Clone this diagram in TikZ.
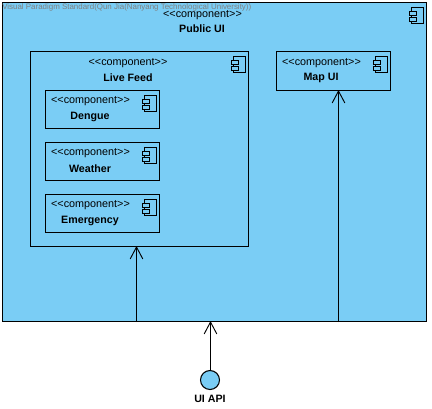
\documentclass[tikz,border=0pt]{standalone}
\usepackage{fontspec}
\usepackage{tikz}
\usetikzlibrary{arrows.meta}
\setmainfont{Liberation Sans}
\definecolor{compblue}{HTML}{7ACDF5}
\newcommand{\stereotxt}{<{}<component>{}>}
\tikzset{
	comp/.style={draw=black,fill=compblue,line width=0.8pt,anchor=north west,inner sep=0pt,minimum width=#1*0.75pt},
	stereo/.style={font=\fontsize{8.1}{9}\selectfont,inner sep=0pt},
	compname/.style={font=\fontsize{8}{9}\selectfont\bfseries,inner sep=0pt},
	uses/.style={-{Straight Barb[length=9pt,width=9.5pt]},line width=0.7pt},
	compicon/.pic={
		\draw[line width=0.7pt] (-16,5) rectangle (-4,21);
		\draw[line width=0.7pt,fill=compblue] (-18,9) rectangle (-11,13);
		\draw[line width=0.7pt,fill=compblue] (-18,15) rectangle (-11,19);
	}
}
\begin{document}
\begin{tikzpicture}[x=0.75pt,y=-0.75pt]
	\useasboundingbox (0,0) rectangle (432,408);
	% Outer component
	\node[comp=424,minimum height=319*0.75pt] (publicui) at (2,2) {};
	\path (publicui.north east) pic {compicon};
	\node[stereo] (publicuist) at (202.5,15) {\stereotxt};
	\node[compname] (publicuiname) at (202,29) {Public UI};
	\node[font=\fontsize{5.95}{7}\selectfont,text=black!50,inner sep=0pt,anchor=west] (mark) at (2,7) {Visual Paradigm Standard(Qun Jia(Nanyang Technological University))};
	% Live Feed and its children
	\node[comp=218,minimum height=195*0.75pt] (livefeed) at (30,51) {};
	\path (livefeed.north east) pic {compicon};
	\node[stereo] (livefeedst) at (128,63) {\stereotxt};
	\node[compname] (livefeedname) at (128,78) {Live Feed};
	\foreach \name/\ytop/\txt in {dengue/90/Dengue,weather/142/Weather,emergency/194/Emergency}
	{
		\node[comp=114,minimum height=38*0.75pt] (\name) at (45,\ytop) {};
		\path (\name.north east) pic {compicon};
		\node[stereo] (\name st) at (90.5,\ytop+11) {\stereotxt};
		\node[compname] (\name label) at (90,\ytop+26.5) {\txt};
	}
	% Map UI
	\node[comp=114,minimum height=39*0.75pt] (mapui) at (276,51) {};
	\path (mapui.north east) pic {compicon};
	\node[stereo] (mapuist) at (321.5,63) {\stereotxt};
	\node[compname] (mapuiname) at (321,78) {Map UI};
	% Interface
	\node[circle,draw=black,fill=compblue,line width=0.8pt,minimum size=19*0.75pt,inner sep=0pt] (uiapi) at (210,380) {};
	\node[compname,below=3.5pt] (uiapilabel) at (uiapi.south) {UI API};
	% Connectors
	\coordinate (feedtip) at (136.5,246);
	\coordinate (maptip) at (338.5,90);
	\coordinate (apitip) at (210.5,321);
	\draw[uses] (publicui.south -| feedtip) -- (feedtip);
	\draw[uses] (publicui.south -| maptip) -- (maptip);
	\draw[uses] (uiapi.north -| apitip) -- (apitip);
\end{tikzpicture}
\end{document}
